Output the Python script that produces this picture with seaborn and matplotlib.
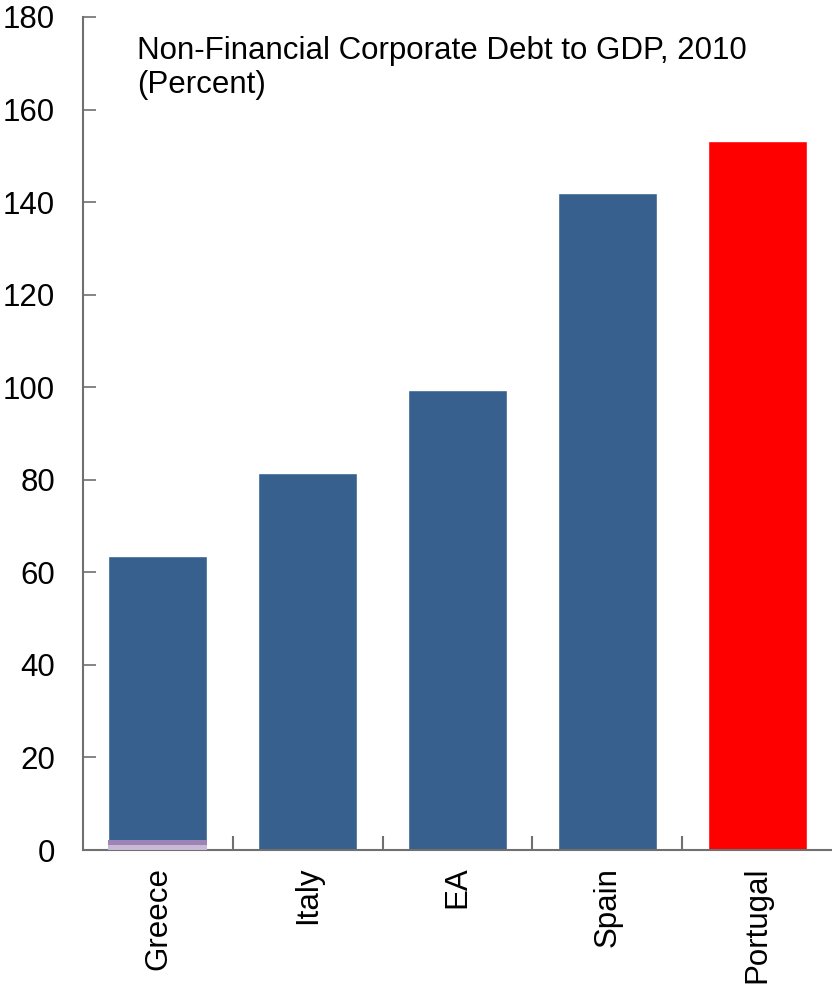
import matplotlib
matplotlib.use("Agg")
import matplotlib.pyplot as plt
import seaborn as sns
import pandas as pd
import numpy as np

categories = ["Greece", "Italy", "EA", "Spain", "Portugal"]
values = [63.5, 81.5, 99.4, 142.0, 153.2]
bar_colors = ["#37608F", "#37608F", "#37608F", "#37608F", "#FF0000"]
# small stacked segments at the bottom of the Greece bar
greece_segments = [1.1, 1.1]
greece_segment_colors = ["#C9B8D6", "#9C84B4"]
yticks = [0, 20, 40, 60, 80, 100, 120, 140, 160, 180]
title = "Non-Financial Corporate Debt to GDP, 2010\n(Percent)"

sns.set_style("white")
plt.rcParams['font.family'] = ['Liberation Sans', 'DejaVu Sans']
plt.rcParams['text.color'] = 'black'
plt.rcParams['xtick.color'] = 'black'
plt.rcParams['ytick.color'] = 'black'

fig = plt.figure(figsize=(8.32, 9.9), dpi=100)
ax = fig.add_axes([83/832, 140/990, 1 - 83/832, 833/990])

df = pd.DataFrame({"country": categories, "value": values})
sns.barplot(data=df, x="country", y="value", hue="country",
            palette=dict(zip(categories, bar_colors)), width=0.66,
            legend=False, ax=ax, saturation=1)

bottom = 0
for seg, col in zip(greece_segments, greece_segment_colors):
    ax.bar(0, seg, bottom=bottom, width=0.66, color=col, edgecolor="none", zorder=3)
    bottom += seg

ax.set_xlim(-0.5, 4.5)
ax.set_ylim(0, 180)
ax.set_yticks(yticks)
ax.set_yticklabels([str(t) for t in yticks], fontsize=22.5)
ax.set_xticks(range(len(categories)))
ax.set_xticklabels(categories, rotation=90, fontsize=22.5)
ax.set_xticks(np.arange(0.5, 4.5, 1.0), minor=True)
ax.tick_params(axis="x", which="major", bottom=True, length=0, pad=12)
ax.tick_params(axis="x", which="minor", bottom=True, direction="in", length=10,
               width=1.5, color="#707070")
ax.tick_params(axis="y", left=True, direction="in", length=9, width=1.2,
               color="#707070", pad=20)
ax.set_xlabel("")
ax.set_ylabel("")

for s in ["top", "right"]:
    ax.spines[s].set_visible(False)
for s in ["left", "bottom"]:
    ax.spines[s].set_color("#707070")
    ax.spines[s].set_linewidth(1.5)

ax.text(0.072, 0.909, title, transform=ax.transAxes, fontsize=22.5,
        va="baseline", ha="left", linespacing=1.15)

fig.savefig("out.png", dpi=100)
